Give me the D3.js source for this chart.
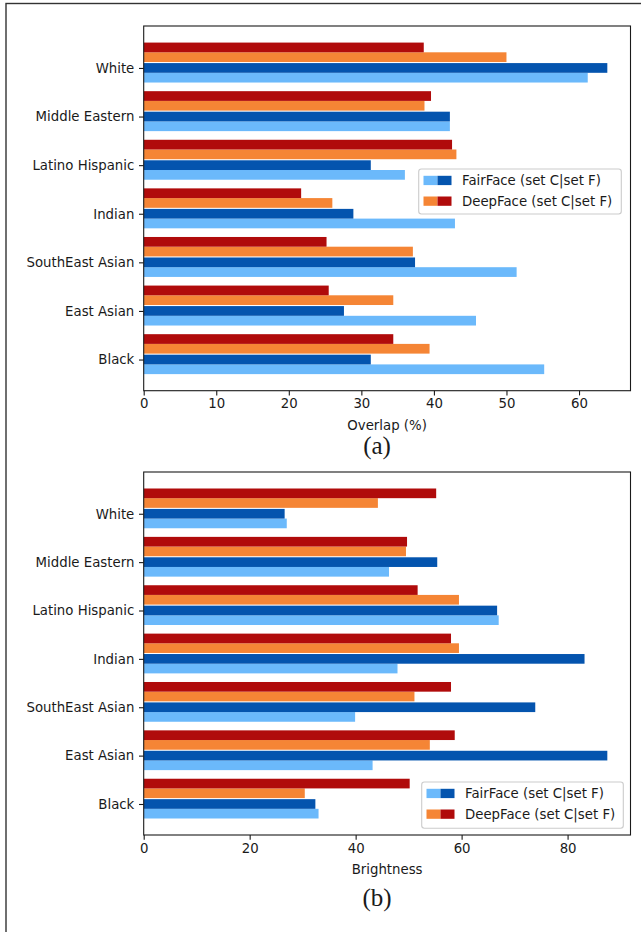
<!DOCTYPE html>
<html>
<head>
<meta charset="utf-8">
<script src="https://cdn.jsdelivr.net/npm/d3@7"></script>
<style>
  html, body { margin: 0; padding: 0; background: #fff; }
  svg { display: block; }
  text { font-family: "DejaVu Sans", sans-serif; fill: #1a1a1a; }
  .caption { font-family: "Liberation Serif", "Times New Roman", serif; }
</style>
</head>
<body>
<svg id="fig" width="641" height="932"></svg>
<script>
// Categories, top to bottom as drawn
const categories = ["White", "Middle Eastern", "Latino Hispanic", "Indian", "SouthEast Asian", "East Asian", "Black"];

// (a) Overlap (%)
const overlapFairC = [61.2, 42.2, 36.0, 42.9, 51.4, 45.8, 55.2];
const overlapFairF = [63.9, 42.2, 31.3, 28.9, 37.4, 27.6, 31.3];
const overlapDeepC = [50.0, 38.7, 43.1, 26.0, 37.1, 34.4, 39.4];
const overlapDeepF = [38.6, 39.6, 42.5, 21.7, 25.2, 25.5, 34.4];
const overlapTicks = [0, 10, 20, 30, 40, 50, 60];

// (b) Brightness
const brightFairC = [27.0, 46.3, 67.0, 47.9, 39.9, 43.2, 33.0];
const brightFairF = [26.6, 55.4, 66.7, 83.2, 73.9, 87.5, 32.4];
const brightDeepC = [44.2, 49.5, 59.5, 59.5, 51.1, 54.0, 30.4];
const brightDeepF = [55.2, 49.7, 51.7, 58.0, 58.0, 58.7, 50.2];
const brightTicks = [0, 20, 40, 60, 80];

const legendLabels = ["FairFace (set C|set F)", "DeepFace (set C|set F)"];

const colors = {
  fairC: "#6bb9fb",
  fairF: "#0454ae",
  deepC: "#f58535",
  deepF: "#b00b0b"
};

const svg = d3.select("#fig");
const FS = 13.3;

// outer frame around the figure (runs past the right and bottom edges)
svg.append("rect")
  .attr("x", 6).attr("y", 3.5)
  .attr("width", 650).attr("height", 940)
  .attr("fill", "none").attr("stroke", "#333").attr("stroke-width", 1.4);

function panel(opts) {
  const { top, bottom, left, right, series, ticks, xLabel, caption, captionY, legendBox } = opts;
  const g = svg.append("g");

  // bar rows: category i sits at y = n-1-i (first category on top)
  const n = categories.length;
  const barH = 0.2;
  const offsets = { fairC: -0.2, fairF: 0, deepC: 0.222, deepF: 0.422 };
  const maxVal = d3.max([].concat(...Object.values(series)));
  const lo = offsets.fairC - barH / 2, hi = (n - 1) + offsets.deepF + barH / 2;
  const pad = (hi - lo) * 0.05;

  const x = d3.scaleLinear().domain([0, maxVal * 1.05]).range([left, right]);
  const y = d3.scaleLinear().domain([lo - pad, hi + pad]).range([bottom, top]);

  const order = ["fairC", "fairF", "deepC", "deepF"];
  order.forEach(key => {
    g.append("g").selectAll("rect")
      .data(series[key])
      .join("rect")
      .attr("x", x(0))
      .attr("y", (d, i) => y((n - 1 - i) + offsets[key] + barH / 2))
      .attr("width", d => x(d) - x(0))
      .attr("height", (d, i) => y((n - 1 - i) + offsets[key] - barH / 2) - y((n - 1 - i) + offsets[key] + barH / 2))
      .attr("fill", colors[key]);
  });

  // axes
  const xAxis = d3.axisBottom(x).tickValues(ticks).tickFormat(d3.format("d"))
    .tickSize(4.7).tickPadding(3.6).tickSizeOuter(0);
  const gx = g.append("g").attr("transform", `translate(0,${bottom})`).call(xAxis);
  gx.select(".domain").remove();
  gx.selectAll("line").attr("stroke", "#1a1a1a").attr("stroke-width", 1.1);
  gx.selectAll("text").attr("font-size", FS).attr("font-family", "DejaVu Sans").attr("fill", "#1a1a1a");

  const yAxis = d3.axisLeft(y)
    .tickValues(d3.range(n))
    .tickFormat(v => categories[n - 1 - v])
    .tickSize(4.7).tickPadding(4.7).tickSizeOuter(0);
  const gy = g.append("g").attr("transform", `translate(${left},0)`).call(yAxis);
  gy.select(".domain").remove();
  gy.selectAll("line").attr("stroke", "#1a1a1a").attr("stroke-width", 1.1);
  gy.selectAll("text").attr("font-size", FS).attr("font-family", "DejaVu Sans").attr("fill", "#1a1a1a");

  // plot frame
  g.append("rect")
    .attr("x", left).attr("y", top)
    .attr("width", right - left).attr("height", bottom - top)
    .attr("fill", "none").attr("stroke", "#1a1a1a").attr("stroke-width", 1.1);

  // axis label + caption
  g.append("text")
    .attr("x", (left + right) / 2).attr("y", bottom + 39)
    .attr("text-anchor", "middle").attr("font-size", FS)
    .text(xLabel);
  g.append("text").attr("class", "caption")
    .attr("x", 377).attr("y", captionY)
    .attr("text-anchor", "middle").attr("font-size", 25)
    .text(caption);

  // legend
  const lg = g.append("g");
  lg.append("rect")
    .attr("x", legendBox.x).attr("y", legendBox.y)
    .attr("width", legendBox.w).attr("height", legendBox.h)
    .attr("rx", 2.7)
    .attr("fill", "#fff").attr("fill-opacity", 0.8)
    .attr("stroke", "#cccccc").attr("stroke-width", 1.1);
  const pairs = [["fairC", "fairF"], ["deepC", "deepF"]];
  pairs.forEach((p, i) => {
    const cy = legendBox.y + 11.5 + i * 20.7;
    const hx = legendBox.x + 4.8;
    lg.append("rect").attr("x", hx).attr("y", cy - 4.7).attr("width", 14).attr("height", 9.3).attr("fill", colors[p[0]]);
    lg.append("rect").attr("x", hx + 14).attr("y", cy - 4.7).attr("width", 14).attr("height", 9.3).attr("fill", colors[p[1]]);
    lg.append("text")
      .attr("x", hx + 38.5).attr("y", cy + 4.8)
      .attr("font-size", FS)
      .text(legendLabels[i]);
  });
}

panel({
  top: 26, bottom: 390.7, left: 143.7, right: 630.5,
  series: { fairC: overlapFairC, fairF: overlapFairF, deepC: overlapDeepC, deepF: overlapDeepF },
  ticks: overlapTicks,
  xLabel: "Overlap (%)",
  caption: "(a)", captionY: 454,
  legendBox: { x: 418.7, y: 169, w: 202.6, h: 45 }
});

panel({
  top: 472, bottom: 835, left: 143.7, right: 630.5,
  series: { fairC: brightFairC, fairF: brightFairF, deepC: brightDeepC, deepF: brightDeepF },
  ticks: brightTicks,
  xLabel: "Brightness",
  caption: "(b)", captionY: 906,
  legendBox: { x: 421.7, y: 782, w: 201.6, h: 46.3 }
});
</script>
</body>
</html>
